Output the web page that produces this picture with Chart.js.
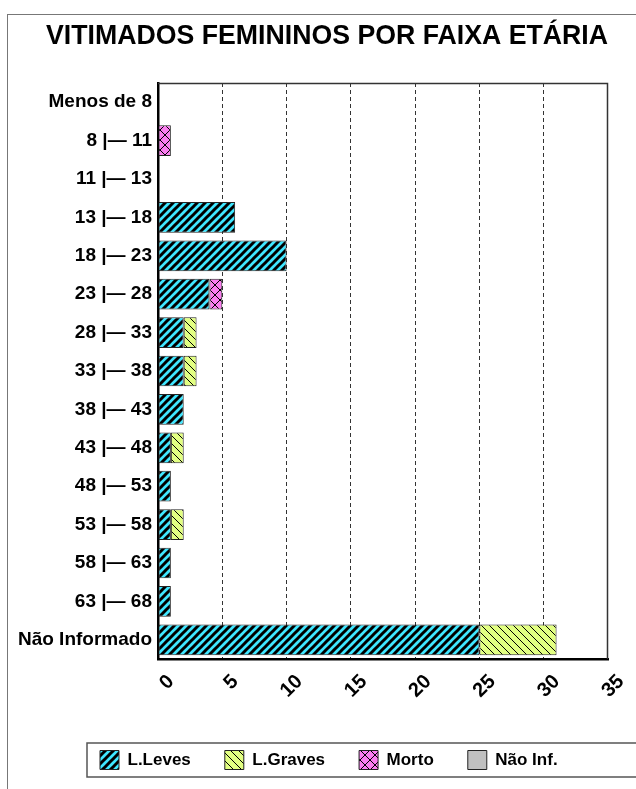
<!DOCTYPE html>
<html>
<head>
<meta charset="utf-8">
<script src="https://cdn.jsdelivr.net/npm/chart.js@4/dist/chart.umd.min.js"></script>
<style>
  html, body { margin: 0; padding: 0; background: #fff; overflow: hidden; }
  #frame { position: absolute; left: 7px; top: 14px; width: 700px; height: 900px; border: 1px solid #777; }
  #wrap { position: absolute; left: 0; top: 0; width: 636px; height: 789px; }
</style>
</head>
<body>
<div id="frame"></div>
<div id="wrap"><canvas id="myChart" width="636" height="789"></canvas></div>
<script>
// age ranges (top to bottom)
const labels = [
  'Menos de 8',
  '8 |— 11',
  '11 |— 13',
  '13 |— 18',
  '18 |— 23',
  '23 |— 28',
  '28 |— 33',
  '33 |— 38',
  '38 |— 43',
  '43 |— 48',
  '48 |— 53',
  '53 |— 58',
  '58 |— 63',
  '63 |— 68',
  'Não Informado',
]
const leves = [0, 0, 0, 6, 10, 4, 2, 2, 2, 1, 1, 1, 1, 1, 25]
const graves = [0, 0, 0, 0, 0, 0, 1, 1, 0, 1, 0, 1, 0, 0, 6]
const morto = [0, 1, 0, 0, 0, 1, 0, 0, 0, 0, 0, 0, 0, 0, 0]
const naoInf = [0, 0, 0, 0, 0, 0, 0, 0, 0, 0, 0, 0, 0, 0, 0]
const xMax = 35
const xStep = 5

// fill patterns
function hatch(bg, kind) {
  const s = kind === 'cross' ? 10 : 8
  const c = document.createElement('canvas')
  c.width = s
  c.height = s
  const g = c.getContext('2d')
  g.fillStyle = bg
  g.fillRect(0, 0, s, s)
  g.strokeStyle = '#000'
  const line = (x1, y1, x2, y2) => {
    g.beginPath()
    g.moveTo(x1, y1)
    g.lineTo(x2, y2)
    g.stroke()
  }
  if (kind === 'fwd') {
    g.lineWidth = 3
    line(-2, 2, 2, -2)
    line(0, s, s, 0)
    line(s - 2, s + 2, s + 2, s - 2)
  } else if (kind === 'back') {
    g.lineWidth = 1
    line(0, 0, s, s)
    line(-2, s - 2, 2, s + 2)
    line(s - 2, -2, s + 2, 2)
  } else if (kind === 'cross') {
    g.lineWidth = 1
    line(0, 0, s, s)
    line(0, s, s, 0)
  }
  return g.createPattern(c, 'repeat')
}

const ctx = document.getElementById('myChart').getContext('2d')

const plotFrame = {
  id: 'plotFrame',
  afterLayout(chart) {
    // nudge title and legend to where the original sits
    chart.titleBlock.left += 38
    chart.legend.left = 66
  },
  afterDatasetsDraw(chart) {
    const { ctx, chartArea: a } = chart
    ctx.save()
    ctx.strokeStyle = '#333'
    ctx.lineWidth = 1.5
    ctx.beginPath()
    ctx.moveTo(a.left, a.top + 0.5)
    ctx.lineTo(a.right - 0.5, a.top + 0.5)
    ctx.lineTo(a.right - 0.5, a.bottom)
    ctx.stroke()
    ctx.restore()
  },
  afterDraw(chart) {
    const lg = chart.legend
    const ctx = chart.ctx
    ctx.save()
    ctx.strokeStyle = '#555'
    ctx.lineWidth = 1.5
    ctx.strokeRect(87, lg.top + 26.5, 700, lg.bottom - lg.top - 29)
    ctx.restore()
  },
}

const font = "'Liberation Sans', Arial, sans-serif"

const data = {
  labels: labels,
  datasets: [
    { label: 'L.Leves', data: leves, backgroundColor: hatch('#3fe6ff', 'fwd') },
    { label: 'L.Graves', data: graves, backgroundColor: hatch('#e2ff82', 'back') },
    { label: 'Morto', data: morto, backgroundColor: hatch('#fb7df0', 'cross') },
    { label: 'Não Inf.', data: naoInf, backgroundColor: '#c0c0c0' },
  ].map((d) => ({
    ...d,
    borderColor: '#222',
    borderWidth: 1,
    borderSkipped: false,
    barPercentage: 0.8,
    categoryPercentage: 1,
  })),
}

const config = {
  type: 'bar',
  data: data,
  plugins: [plotFrame],
  options: {
    indexAxis: 'y',
    responsive: false,
    animation: false,
    layout: { padding: { left: 8, right: 28, top: 19, bottom: 9.5 } },
    plugins: {
      title: {
        display: true,
        text: 'VITIMADOS FEMININOS POR FAIXA ETÁRIA',
        color: '#000',
        font: { family: "'Liberation Sans Narrow', 'Arial Narrow', " + font, size: 28.5, weight: 'bold' },
        padding: { top: 0, bottom: 29.8 },
      },
      legend: {
        position: 'bottom',
        align: 'start',
        labels: {
          color: '#000',
          font: { family: font, size: 17, weight: 'bold' },
          boxWidth: 19,
          boxHeight: 19,
          padding: 34,
        },
      },
      tooltip: { enabled: false },
    },
    scales: {
      x: {
        stacked: true,
        min: 0,
        max: xMax,
        ticks: {
          stepSize: xStep,
          color: '#000',
          font: { family: font, size: 20, weight: 'bold' },
          minRotation: 45,
          maxRotation: 45,
          labelOffset: 13,
          padding: 11,
        },
        grid: {
          drawTicks: false,
          color: (c) => (c.tick && c.tick.value > 0 && c.tick.value < xMax ? '#333' : 'rgba(0,0,0,0)'),
          lineWidth: 1,
        },
        border: { display: true, color: '#000', width: 2.5, dash: [4, 3] },
        afterFit: (scale) => {
          scale.height = 57.5
        },
      },
      y: {
        stacked: true,
        ticks: {
          color: '#000',
          font: { family: font, size: 19, weight: 'bold' },
          padding: 6,
        },
        grid: { display: false, drawTicks: false },
        border: { display: true, color: '#000', width: 2.5 },
        afterFit: (scale) => {
          scale.width = 150
        },
      },
    },
  },
}

const myChart = new Chart(ctx, config)
</script>
</body>
</html>
